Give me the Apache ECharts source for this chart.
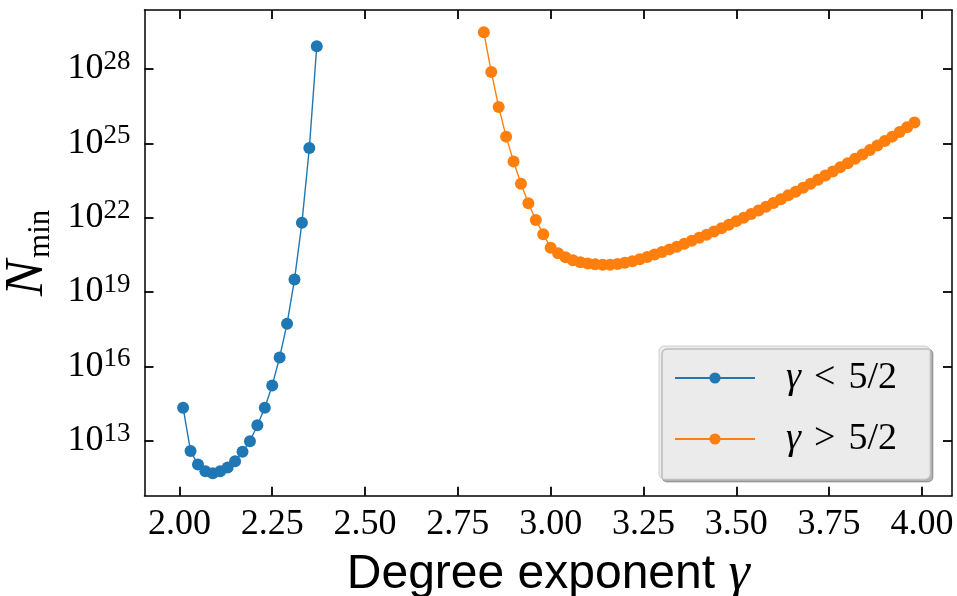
<!DOCTYPE html>
<html>
<head>
<meta charset="utf-8">
<script src="https://cdn.jsdelivr.net/npm/echarts@6/dist/echarts.min.js"></script>
<style>
html,body{margin:0;padding:0;background:#fff;}
#chart{width:957px;height:596px;}
</style>
</head>
<body>
<div id="chart"></div>
<script>
// Degree exponent gamma (x) and log10 of N_min (y)
const blueX = [2.01,2.03,2.05,2.07,2.09,2.11,2.13,2.15,2.17,2.19,2.21,2.23,2.25,2.27,2.29,2.31,2.33,2.35,2.37];
const blueLog10N = [14.33,12.58,12.04,11.77,11.69,11.77,11.92,12.17,12.55,12.98,13.62,14.33,15.23,16.36,17.72,19.50,21.79,24.81,28.92];

const orangeX = [2.82,2.84,2.86,2.88,2.90,2.92,2.94,2.96,2.98,3.00,
                 3.02,3.04,3.06,3.08,3.10,3.12,3.14,3.16,3.18,3.20,
                 3.22,3.24,3.26,3.28,3.30,3.32,3.34,3.36,3.38,3.40,
                 3.42,3.44,3.46,3.48,3.50,3.52,3.54,3.56,3.58,3.60,
                 3.62,3.64,3.66,3.68,3.70,3.72,3.74,3.76,3.78,3.80,
                 3.82,3.84,3.86,3.88,3.90,3.92,3.94,3.96,3.98];
const orangeLog10N = [29.48,27.88,26.47,25.27,24.27,23.37,22.58,21.91,21.33,20.79,
                      20.56,20.40,20.28,20.20,20.15,20.12,20.10,20.10,20.13,20.18,
                      20.24,20.32,20.41,20.51,20.61,20.72,20.83,20.95,21.07,21.19,
                      21.31,21.44,21.57,21.71,21.86,22.00,22.15,22.29,22.44,22.59,
                      22.74,22.90,23.05,23.21,23.37,23.53,23.70,23.86,24.03,24.20,
                      24.38,24.55,24.73,24.91,25.09,25.27,25.46,25.65,25.84];

const seriesNames = ['γ < 5/2', 'γ > 5/2'];
const xTicks = [2.00,2.25,2.50,2.75,3.00,3.25,3.50,3.75,4.00];
const yTickExponents = [13,16,19,22,25,28];

const X_MIN = 1.906, X_MAX = 4.081;
const Y_MIN = 10.78, Y_MAX = 30.38;

const SERIF = '"Liberation Serif", "DejaVu Serif", serif';
const SANS = '"Liberation Sans", "DejaVu Sans", sans-serif';

const chart = echarts.init(document.getElementById('chart'), null, {renderer: 'canvas'});

const axisLine = {show: true, onZero: false, lineStyle: {color: '#000', width: 1.5}};
const tickStyle = {color: '#000', width: 1.8};

const option = {
  animation: false,
  backgroundColor: '#fff',
  grid: {left: 144.5, right: 5, top: 10, bottom: 100.3, containLabel: false, outerBoundsMode: 'none'},
  legend: {
    orient: 'vertical',
    left: 659, top: 346,
    itemWidth: 80, itemHeight: 14, itemGap: 23,
    padding: [13, 33, 21, 15],
    backgroundColor: '#ebebeb',
    borderColor: '#d0d0d0', borderWidth: 1, borderRadius: 5,
    shadowColor: 'rgba(0,0,0,0.3)', shadowOffsetX: 3, shadowOffsetY: 3, shadowBlur: 0,
    selectedMode: false,
    data: seriesNames,
    formatter: function (name) {
      const op = name.indexOf('<') >= 0 ? '<' : '>';
      return '{i|γ}{o|' + op + '}{t|5/2}';
    },
    textStyle: {
      padding: [0, 0, 0, 26],
      rich: {
        i: {fontFamily: SERIF, fontStyle: 'italic', fontSize: 38, lineHeight: 38, color: '#000'},
        o: {fontFamily: SERIF, fontSize: 38, lineHeight: 38, color: '#000', padding: [0, 13, 0, 13]},
        t: {fontFamily: SERIF, fontSize: 38, lineHeight: 38, color: '#000'}
      }
    }
  },
  xAxis: [{
    type: 'value', min: X_MIN, max: X_MAX, position: 'bottom',
    axisLine: axisLine,
    axisTick: {show: true, inside: true, length: 9, lineStyle: tickStyle, customValues: xTicks},
    axisLabel: {
      customValues: xTicks, margin: 11,
      formatter: v => Number(v).toFixed(2),
      fontFamily: SERIF, fontSize: 36, lineHeight: 36, color: '#000'
    },
    splitLine: {show: false},
    name: 'Degree exponent {g|γ}', nameLocation: 'middle', nameGap: 47,
    nameTextStyle: {
      fontFamily: SANS, fontSize: 48, lineHeight: 52, color: '#000',
      rich: {g: {fontFamily: SERIF, fontStyle: 'italic', fontSize: 54, lineHeight: 52, color: '#000'}}
    }
  }, {
    type: 'value', min: X_MIN, max: X_MAX, position: 'top',
    axisLine: axisLine,
    axisTick: {show: true, inside: true, length: 9, lineStyle: tickStyle, customValues: xTicks},
    axisLabel: {show: false},
    splitLine: {show: false}
  }],
  yAxis: [{
    type: 'value', min: Y_MIN, max: Y_MAX, position: 'left',
    axisLine: axisLine,
    axisTick: {show: true, inside: true, length: 9, lineStyle: tickStyle, customValues: yTickExponents},
    axisLabel: {
      customValues: yTickExponents, margin: 14,
      formatter: v => '{b|10}{s|' + Math.round(v) + '}',
      rich: {
        b: {fontFamily: SERIF, fontSize: 36, lineHeight: 40, color: '#000'},
        s: {fontFamily: SERIF, fontSize: 27, lineHeight: 26, color: '#000', padding: [0, 0, 14, 0]}
      }
    },
    splitLine: {show: false},
    name: '{n|N}{m|min}', nameLocation: 'middle', nameRotate: 90, nameGap: 84,
    nameTextStyle: {
      padding: [0, 0, 0, 0],
      rich: {
        n: {fontFamily: SERIF, fontStyle: 'italic', fontSize: 54, lineHeight: 57, color: '#000'},
        m: {fontFamily: SERIF, fontSize: 31, lineHeight: 30, color: '#000', padding: [27, 0, 0, 2]}
      }
    }
  }, {
    type: 'value', min: Y_MIN, max: Y_MAX, position: 'right',
    axisLine: axisLine,
    axisTick: {show: true, inside: true, length: 9, lineStyle: tickStyle, customValues: yTickExponents},
    axisLabel: {show: false},
    splitLine: {show: false}
  }],
  series: [{
    name: seriesNames[0], type: 'line',
    xAxisIndex: 0, yAxisIndex: 0,
    data: blueX.map((x, i) => [x, blueLog10N[i]]),
    symbol: 'circle', symbolSize: 12, showAllSymbol: true,
    lineStyle: {color: '#1f77b4', width: 1.4},
    itemStyle: {color: '#1f77b4'},
    emphasis: {disabled: true}
  }, {
    name: seriesNames[1], type: 'line',
    xAxisIndex: 0, yAxisIndex: 0,
    data: orangeX.map((x, i) => [x, orangeLog10N[i]]),
    symbol: 'circle', symbolSize: 12, showAllSymbol: true,
    lineStyle: {color: '#ff7f0e', width: 1.4},
    itemStyle: {color: '#ff7f0e'},
    emphasis: {disabled: true}
  }]
};
chart.setOption(option);
</script>
</body>
</html>
